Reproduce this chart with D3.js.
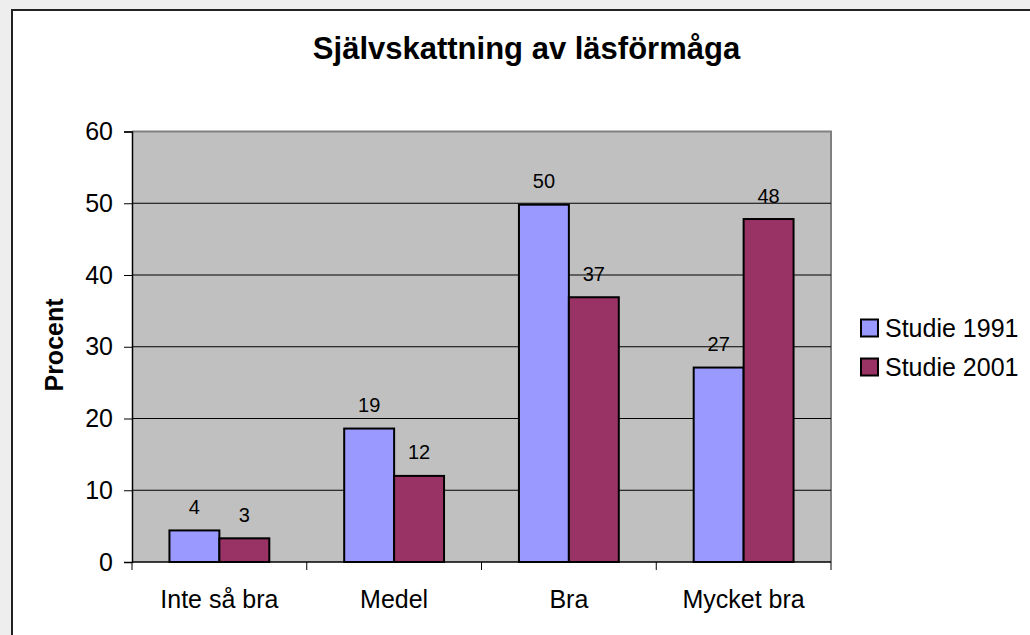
<!DOCTYPE html>
<html>
<head>
<meta charset="utf-8">
<script src="https://cdn.jsdelivr.net/npm/d3@7"></script>
<style>
  html, body { margin: 0; padding: 0; background: #eeeeee; }
  svg { display: block; font-family: "Liberation Sans", Arial, sans-serif; }
</style>
</head>
<body>
<svg id="chart" width="1030" height="635"></svg>
<script>
// Chart data
const categories = ["Inte så bra", "Medel", "Bra", "Mycket bra"];
const seriesNames = ["Studie 1991", "Studie 2001"];
const study1991 = [4.4, 18.6, 49.8, 27.1];
const study2001 = [3.3, 12.0, 36.9, 47.8];
const yTicks = [0, 10, 20, 30, 40, 50, 60];
const colors = ["#9999FF", "#993366"];

const svg = d3.select("#chart");

// chart area (white, right/bottom edges run off the page)
svg.append("rect")
  .attr("x", 12).attr("y", 10)
  .attr("width", 1040).attr("height", 660)
  .attr("fill", "#fff")
  .attr("stroke", "#222")
  .attr("stroke-width", 2);

const plot = { left: 132, right: 831, top: 131.5, bottom: 562 };

const x = d3.scaleBand()
  .domain(categories)
  .range([plot.left, plot.right])
  .paddingInner(0)
  .paddingOuter(0);

// excel style gap width 150%: two bars + 1.5 bar of gap per category
const groupPad = 0.75 / 3.5;
const xInner = d3.scaleBand()
  .domain(seriesNames)
  .range([x.bandwidth() * groupPad, x.bandwidth() * (1 - groupPad)]);

const y = d3.scaleLinear()
  .domain([0, 60])
  .range([plot.bottom, plot.top]);

// plot background
svg.append("rect")
  .attr("x", plot.left).attr("y", plot.top)
  .attr("width", plot.right - plot.left)
  .attr("height", plot.bottom - plot.top)
  .attr("fill", "#C0C0C0");

// gray frame top and right
svg.append("path")
  .attr("d", `M${plot.left},${plot.top}H${plot.right}V${plot.bottom}`)
  .attr("fill", "none")
  .attr("stroke", "#808080")
  .attr("stroke-width", 2);

// gridlines
svg.append("g")
  .selectAll("line")
  .data(yTicks.filter((d) => d > 0 && d < 60))
  .join("line")
  .attr("x1", plot.left).attr("x2", plot.right)
  .attr("y1", (d) => y(d)).attr("y2", (d) => y(d))
  .attr("stroke", "#000")
  .attr("stroke-width", 1);

// bars
const rows = categories.map((c, i) => ({
  cat: c,
  values: [study1991[i], study2001[i]],
}));

const groups = svg.append("g")
  .selectAll("g")
  .data(rows)
  .join("g")
  .attr("transform", (d) => `translate(${x(d.cat)},0)`);

groups.selectAll("rect")
  .data((d) => d.values.map((v, j) => ({ name: seriesNames[j], value: v, j })))
  .join("rect")
  .attr("x", (d) => xInner(d.name))
  .attr("y", (d) => y(d.value))
  .attr("width", xInner.bandwidth())
  .attr("height", (d) => y(0) - y(d.value))
  .attr("fill", (d) => colors[d.j])
  .attr("stroke", "#000")
  .attr("stroke-width", 2);

groups.selectAll("text")
  .data((d) => d.values.map((v, j) => ({ name: seriesNames[j], value: v })))
  .join("text")
  .attr("x", (d) => xInner(d.name) + xInner.bandwidth() / 2)
  .attr("y", (d) => y(d.value) - 16.5)
  .attr("text-anchor", "middle")
  .attr("font-size", 20)
  .attr("fill", "#000")
  .text((d) => d3.format(".0f")(d.value));

// y axis
const yAxis = svg.append("g")
  .attr("transform", `translate(${plot.left},0)`)
  .call(d3.axisLeft(y).tickValues(yTicks).tickSize(8).tickPadding(11));
yAxis.select(".domain").attr("stroke", "#000").attr("stroke-width", 1.5);
yAxis.selectAll(".tick line").attr("stroke", "#000");
yAxis.selectAll("text")
  .attr("font-size", 25)
  .attr("font-family", "Liberation Sans, Arial, sans-serif")
  .attr("fill", "#000");

// x axis: ticks at category boundaries
const xAxisG = svg.append("g");
xAxisG.append("line")
  .attr("x1", plot.left).attr("x2", plot.right)
  .attr("y1", plot.bottom).attr("y2", plot.bottom)
  .attr("stroke", "#000").attr("stroke-width", 1.5);
const boundaries = categories.map((c) => x(c)).concat([x(categories[categories.length - 1]) + x.bandwidth()]);
xAxisG.selectAll(".tk")
  .data(boundaries)
  .join("line")
  .attr("class", "tk")
  .attr("x1", (d) => d).attr("x2", (d) => d)
  .attr("y1", plot.bottom).attr("y2", plot.bottom + 8)
  .attr("stroke", "#000");
xAxisG.selectAll("text")
  .data(categories)
  .join("text")
  .attr("x", (d) => x(d) + x.bandwidth() / 2)
  .attr("y", 608)
  .attr("text-anchor", "middle")
  .attr("font-size", 25)
  .attr("fill", "#000")
  .text((d) => d);

// title
svg.append("text")
  .attr("x", 526.5).attr("y", 59)
  .attr("text-anchor", "middle")
  .attr("font-size", 31)
  .attr("font-weight", "bold")
  .text("Självskattning av läsförmåga");

// y axis title
svg.append("text")
  .attr("transform", "translate(63,345) rotate(-90)")
  .attr("text-anchor", "middle")
  .attr("font-size", 25)
  .attr("font-weight", "bold")
  .text("Procent");

// legend
const legend = svg.append("g")
  .selectAll("g")
  .data(seriesNames)
  .join("g")
  .attr("transform", (d, i) => `translate(861,${319.5 + i * 39})`);
legend.append("rect")
  .attr("width", 17).attr("height", 17)
  .attr("fill", (d, i) => colors[i])
  .attr("stroke", "#000")
  .attr("stroke-width", 2);
legend.append("text")
  .attr("x", 24).attr("y", 17)
  .attr("font-size", 25)
  .text((d) => d);
</script>
</body>
</html>
